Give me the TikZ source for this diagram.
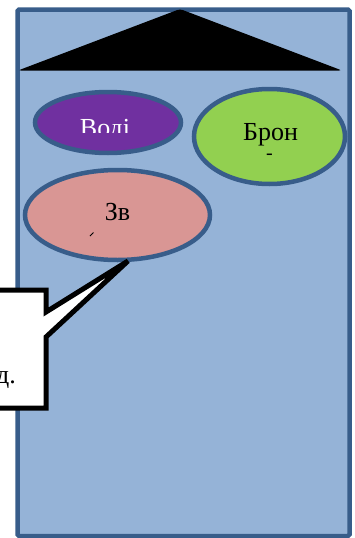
\documentclass[tikz,border=0pt]{standalone}
\usepackage{fontspec}
\setmainfont{Liberation Serif}
\definecolor{frameblue}{HTML}{385D8A}
\definecolor{fillblue}{HTML}{95B3D7}
\definecolor{purp}{HTML}{7030A0}
\definecolor{grn}{HTML}{92D050}
\definecolor{pnk}{HTML}{D99694}
\tikzset{
  ovalline/.style={draw=frameblue, line width=4.5pt},
  lbl/.style={inner sep=0pt, anchor=base, font=\fontsize{26}{30}\selectfont},
}
\usetikzlibrary{shapes.geometric}
\begin{document}
\begin{tikzpicture}[x=1pt,y=-1pt]
\useasboundingbox (0,0) rectangle (355,538);
% house body
\draw[frameblue, fill=fillblue, line width=4.5pt, rounded corners=1.5pt] (17.5,9.5) rectangle (349.5,536);
% roof
\fill[black, rounded corners=3pt] (18,70.5) -- (180,9) -- (342,70.5) -- cycle;
% ellipses
\draw[ovalline, fill=purp] (108,122.5) ellipse [x radius=73, y radius=30.5];
\draw[ovalline, fill=grn] (269.5,136.5) ellipse [x radius=75.5, y radius=47.5];
\draw[ovalline, fill=pnk] (117.5,215) ellipse [x radius=92.5, y radius=45];
% texts
\begin{scope}
\clip (0,0) rectangle (355,132);
\node[lbl, text=white] (vodi) at (105,136) {Воді};
\end{scope}
\node[lbl] (bron) at (270.5,140) {Брон};
\node[inner sep=0pt, font=\fontsize{20}{20}\selectfont] (dash) at (269.5,157) {-};
\node[lbl] (zv) at (117.5,220) {Зв};
\draw[line width=0.8pt] (90,236) -- (93.5,232.5);
% callout
\draw[black, fill=white, line width=5pt, line join=miter]
  (-100,290) -- (46,290) -- (46,312) -- (128,261) -- (46,337) -- (46,408) -- (-100,408) -- cycle;
\node[lbl, anchor=base east] (d) at (16,383) {д.};
\end{tikzpicture}
\end{document}
